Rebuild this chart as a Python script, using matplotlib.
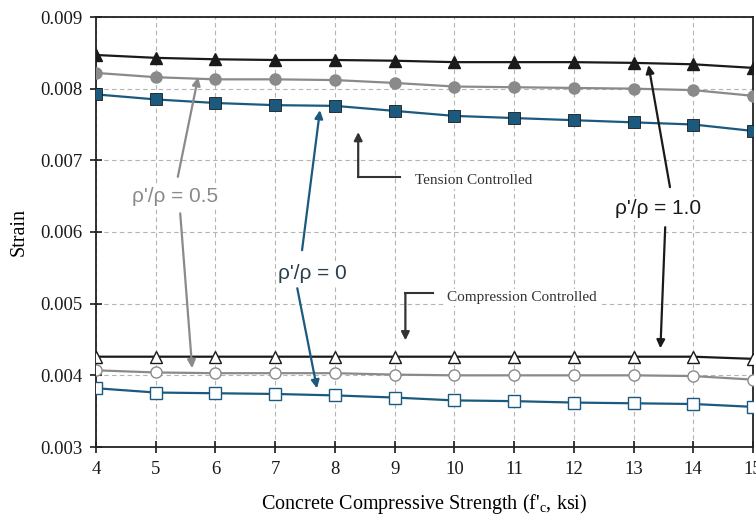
import numpy as np
import matplotlib
matplotlib.use("Agg")
import matplotlib.pyplot as plt

plt.rcParams['font.family'] = ['Liberation Serif', 'DejaVu Serif']
plt.rcParams['mathtext.fontset'] = 'custom'
plt.rcParams['mathtext.rm'] = 'Liberation Serif'
plt.rcParams['mathtext.it'] = 'Liberation Serif:italic'

# data
fc = [4, 5, 6, 7, 8, 9, 10, 11, 12, 13, 14, 15]

# tension controlled (filled markers)
t_10 = [0.00847, 0.00843, 0.00841, 0.00840, 0.00840, 0.00839, 0.00837, 0.00837, 0.00837, 0.00836, 0.00834, 0.00829]
t_05 = [0.00822, 0.00816, 0.00813, 0.00813, 0.00812, 0.00808, 0.00803, 0.00802, 0.00801, 0.00800, 0.00798, 0.00790]
t_00 = [0.00792, 0.00785, 0.00780, 0.00777, 0.00776, 0.00769, 0.00762, 0.00759, 0.00756, 0.00753, 0.00750, 0.00741]

# compression controlled (open markers)
c_10 = [0.00426, 0.00426, 0.00426, 0.00426, 0.00426, 0.00426, 0.00426, 0.00426, 0.00426, 0.00426, 0.00426, 0.00423]
c_05 = [0.00407, 0.00404, 0.00403, 0.00403, 0.00403, 0.00401, 0.00400, 0.00400, 0.00400, 0.00400, 0.00399, 0.00394]
c_00 = [0.00382, 0.00376, 0.00375, 0.00374, 0.00372, 0.00369, 0.00365, 0.00364, 0.00362, 0.00361, 0.00360, 0.00356]

black = '#1a1a1a'
gray = '#8a8a8a'
blue = '#1b5a7e'

fig = plt.figure(figsize=(7.56, 5.2), dpi=100)
ax = fig.add_axes([96 / 756, 1 - 447 / 520, (753 - 96) / 756, (447 - 17) / 520])

ms = 8
ax.plot(fc, t_10, color=black, lw=1.6, marker='^', ms=ms, mfc=black, mec=black, zorder=4)
ax.plot(fc, t_05, color=gray, lw=1.6, marker='o', ms=ms, mfc=gray, mec=gray, zorder=4)
ax.plot(fc, t_00, color=blue, lw=1.6, marker='s', ms=ms, mfc=blue, mec=black, mew=0.6, zorder=4)
ax.plot(fc, c_10, color=black, lw=1.6, marker='^', ms=ms, mfc='white', mec=black, mew=1.0, zorder=4)
ax.plot(fc, c_05, color=gray, lw=1.6, marker='o', ms=ms, mfc='white', mec=gray, mew=1.0, zorder=4)
ax.plot(fc, c_00, color=blue, lw=1.6, marker='s', ms=ms, mfc='white', mec=blue, mew=1.0, zorder=4)

ax.set_xlim(4, 15)
ax.set_ylim(0.003, 0.009)
ax.set_xticks(fc)
ax.set_yticks([0.003, 0.004, 0.005, 0.006, 0.007, 0.008, 0.009])
ax.yaxis.set_major_formatter(matplotlib.ticker.FormatStrFormatter('%.3f'))
ax.tick_params(direction='inout', length=8, width=1.2, labelsize=13.5, colors=black, pad=6)
ax.grid(True, color='#b4b4b4', ls=(0, (4, 3)), lw=0.8)
ax.set_axisbelow(True)
for s in ax.spines.values():
    s.set_linewidth(1.3)
    s.set_color('#222222')

ax.set_xlabel("Concrete Compressive Strength (f'$_\\mathregular{c}$, ksi)", fontsize=14.5, labelpad=10)
ax.set_ylabel('Strain', fontsize=14.5, labelpad=8)

box = dict(fc='white', ec='none', pad=1.5)
sans = ['Liberation Sans', 'DejaVu Sans']


def arrow(xy, xytext, color):
    ax.annotate('', xy=xy, xytext=xytext,
                arrowprops=dict(arrowstyle='-|>', color=color, lw=1.6,
                                mutation_scale=12, shrinkA=0, shrinkB=0), zorder=5)


# rho labels
ax.text(5.32, 0.00649, "ρ'/ρ = 0.5", color=gray, fontsize=15, family=sans,
        ha='center', va='center', bbox=box, zorder=5)
arrow((5.71, 0.00816), (5.37, 0.00677), gray)
arrow((5.61, 0.00410), (5.41, 0.00626), gray)

ax.text(7.63, 0.005425, "ρ'/ρ = 0", color='#2a3f4c', fontsize=15, family=sans,
        ha='center', va='center', bbox=box, zorder=5)
arrow((7.75, 0.00770), (7.45, 0.005746), blue)
arrow((7.70, 0.003818), (7.37, 0.005215), blue)

ax.text(13.41, 0.006332, "ρ'/ρ = 1.0", color=black, fontsize=15, family=sans,
        ha='center', va='center', bbox=box, zorder=5)
arrow((13.25, 0.00833), (13.61, 0.006626), black)
arrow((13.45, 0.004377), (13.53, 0.006067), black)

# controlled-region callouts
ax.text(9.34, 0.006723, 'Tension Controlled', color='#333333', fontsize=11,
        ha='left', va='center', bbox=box, zorder=5)
ax.plot([9.09, 8.39], [0.006765, 0.006765], color='#333333', lw=1.5, zorder=5)
arrow((8.39, 0.007394), (8.39, 0.006765), '#333333')

ax.text(9.88, 0.005089, 'Compression Controlled', color='#333333', fontsize=11,
        ha='left', va='center', bbox=box, zorder=5)
ax.plot([9.645, 9.18], [0.005145, 0.005145], color='#333333', lw=1.5, zorder=5)
arrow((9.18, 0.004489), (9.18, 0.005145), '#333333')

fig.savefig('out.png', dpi=100)
